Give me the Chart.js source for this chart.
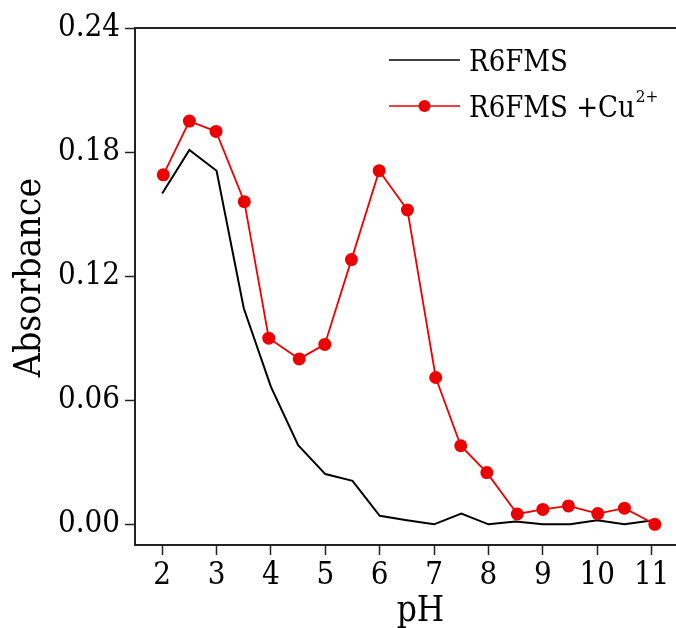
<!DOCTYPE html>
<html>
<head>
<meta charset="utf-8">
<title>Absorbance vs pH</title>
<script src="https://cdn.jsdelivr.net/npm/chart.js@4/dist/chart.umd.min.js"></script>
<style>
  html, body { margin: 0; padding: 0; background: #fff; overflow: hidden; }
  #wrap { position: absolute; left: 0; top: 0; }
</style>
</head>
<body>
<div id="wrap"><canvas id="phChart" width="720" height="628"></canvas></div>
<script>
// R6FMS alone
const phFree  = [2, 2.5, 3, 3.5, 4, 4.5, 5, 5.5, 6, 6.5, 7, 7.5, 8, 8.5, 9, 9.5, 10, 10.5, 11];
const absFree = [0.160, 0.181, 0.171, 0.1045, 0.0665, 0.0383, 0.0243, 0.021, 0.0041, 0.002, 0.0,
                 0.0052, 0.0, 0.0014, 0.0, 0.0, 0.002, 0.0, 0.0018];

// R6FMS + Cu2+
const phCu  = [2.02, 2.5, 2.99, 3.51, 3.96, 4.52, 4.99, 5.48, 5.99, 6.51, 7.03, 7.49, 7.97, 8.53,
               9.0, 9.47, 10.01, 10.5, 11.06];
const absCu = [0.169, 0.195, 0.190, 0.156, 0.090, 0.080, 0.087, 0.128, 0.171, 0.152, 0.071, 0.038,
               0.025, 0.005, 0.0072, 0.0089, 0.0052, 0.0078, 0.0];

const phTicks  = [2, 3, 4, 5, 6, 7, 8, 9, 10, 11];
const absTicks = [0, 0.06, 0.12, 0.18, 0.24];

const FONT = "'DejaVu Serif Condensed', 'DejaVu Serif', serif";
const AXIS = '#222';
const RED = 'rgb(236, 0, 0)';

const toPoints = (xs, ys) => xs.map((x, i) => ({ x: x, y: ys[i] }));

// frame line along the top of the plot
const topFrame = {
  id: 'topFrame',
  afterDraw(chart) {
    const { ctx, chartArea } = chart;
    ctx.save();
    ctx.strokeStyle = AXIS;
    ctx.lineWidth = 2;
    ctx.beginPath();
    ctx.moveTo(chartArea.left - 1, chartArea.top);
    ctx.lineTo(chartArea.right, chartArea.top);
    ctx.stroke();
    ctx.restore();
  }
};

// rotated y-axis title, sits a little above the plot's middle
const yTitle = {
  id: 'yTitle',
  afterDraw(chart) {
    const { ctx, chartArea } = chart;
    ctx.save();
    ctx.translate(30, (chartArea.top + chartArea.bottom) / 2 - 9);
    ctx.rotate(-Math.PI / 2);
    ctx.fillStyle = '#000';
    ctx.font = '37px ' + FONT;
    ctx.textAlign = 'center';
    ctx.textBaseline = 'middle';
    ctx.fillText('Absorbance', 0, 0);
    ctx.restore();
  }
};

// legend inside the plot, top right, with superscript support
const insetLegend = {
  id: 'insetLegend',
  afterDraw(chart) {
    const { ctx, chartArea } = chart;
    const x0 = chartArea.left + 254;
    const x1 = chartArea.left + 325;
    const tx = chartArea.left + 334;
    chart.data.datasets.forEach((ds, i) => {
      const y = chartArea.top + 32 + i * 46;
      ctx.save();
      ctx.strokeStyle = ds.borderColor;
      ctx.lineWidth = 1.6;
      ctx.beginPath();
      ctx.moveTo(x0, y);
      ctx.lineTo(x1, y);
      ctx.stroke();
      if (ds.pointRadius > 0) {
        ctx.fillStyle = ds.pointBackgroundColor;
        ctx.beginPath();
        ctx.arc((x0 + x1) / 2, y, 6, 0, Math.PI * 2);
        ctx.fill();
      }
      ctx.fillStyle = '#000';
      ctx.textBaseline = 'alphabetic';
      ctx.font = '29px ' + FONT;
      ctx.fillText(ds.label, tx, y + 11);
      if (ds.sup) {
        const w = ctx.measureText(ds.label).width;
        ctx.font = '17px ' + FONT;
        ctx.fillText(ds.sup, tx + w + 1, y - 4);
      }
      ctx.restore();
    });
  }
};

new Chart(document.getElementById('phChart'), {
  type: 'line',
  data: {
    datasets: [
      {
        label: 'R6FMS',
        data: toPoints(phFree, absFree),
        borderColor: '#000',
        borderWidth: 2,
        pointRadius: 0,
        tension: 0,
        order: 1
      },
      {
        label: 'R6FMS +Cu',
        sup: '2+',
        data: toPoints(phCu, absCu),
        borderColor: RED,
        borderWidth: 1.8,
        pointRadius: 6.5,
        pointBackgroundColor: RED,
        pointBorderWidth: 0,
        tension: 0,
        order: 0
      }
    ]
  },
  options: {
    responsive: false,
    animation: false,
    devicePixelRatio: 1,
    layout: { padding: { top: 28, right: 14, left: 0, bottom: 0 } },
    plugins: {
      legend: { display: false },
      tooltip: { enabled: false }
    },
    scales: {
      x: {
        type: 'linear',
        min: 1.5,
        max: 12,
        afterBuildTicks: s => { s.ticks = phTicks.map(v => ({ value: v })); },
        afterFit: s => { s.height = 83; },
        ticks: {
          color: '#000',
          padding: 2,
          font: { family: FONT, size: 31 },
          callback: v => String(v)
        },
        grid: {
          display: true,
          drawOnChartArea: false,
          drawTicks: true,
          tickLength: 10,
          tickWidth: 1.5,
          tickColor: AXIS
        },
        border: { display: true, color: AXIS, width: 2 },
        title: {
          display: true,
          text: 'pH',
          color: '#000',
          padding: 0,
          font: { family: FONT, size: 35, lineHeight: 0.93 }
        }
      },
      y: {
        min: -0.01,
        max: 0.24,
        afterBuildTicks: s => { s.ticks = absTicks.map(v => ({ value: v })); },
        afterFit: s => { s.width = 135; },
        ticks: {
          color: '#000',
          padding: 5,
          font: { family: FONT, size: 31 },
          callback: v => v.toFixed(2)
        },
        grid: {
          display: true,
          drawOnChartArea: false,
          drawTicks: true,
          tickLength: 10,
          tickWidth: 1.5,
          tickColor: AXIS
        },
        border: { display: true, color: AXIS, width: 2 },
        title: { display: false }
      }
    }
  },
  plugins: [topFrame, yTitle, insetLegend]
});
</script>
</body>
</html>
